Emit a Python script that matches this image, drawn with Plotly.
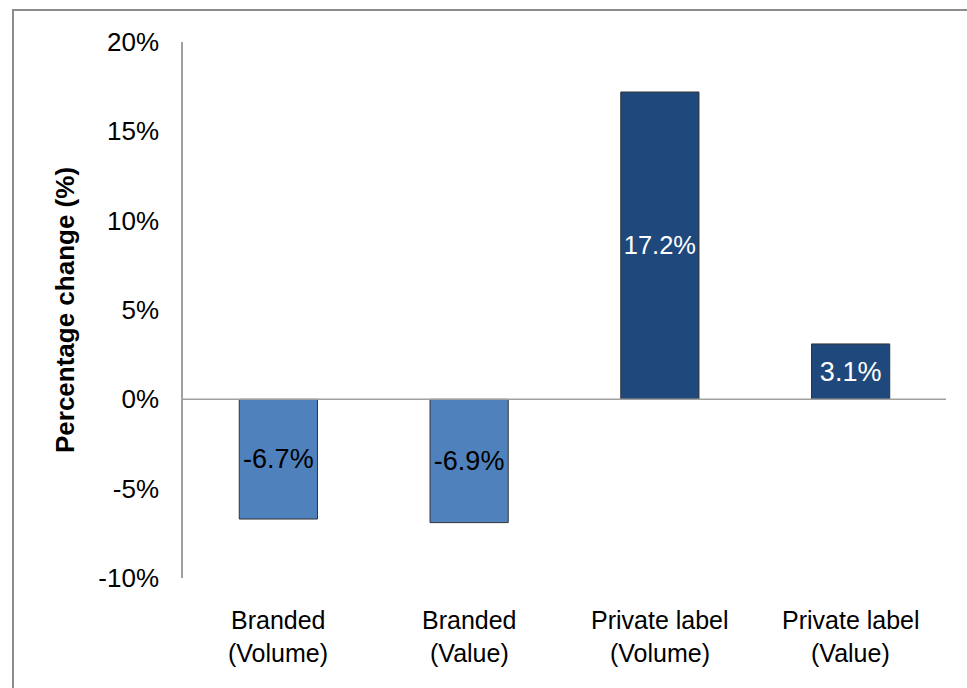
import plotly.graph_objects as go

categories = ["Branded (Volume)", "Branded (Value)", "Private label (Volume)", "Private label (Value)"]
label_line1 = ["Branded", "Branded", "Private label", "Private label"]
label_line2 = ["(Volume)", "(Value)", "(Volume)", "(Value)"]
values = [-6.7, -6.9, 17.2, 3.1]
bar_colors = ["#4F81BD", "#4F81BD", "#1F497D", "#1F497D"]
text_colors = ["black", "black", "white", "white"]
tick_vals = [-10, -5, 0, 5, 10, 15, 20]
tick_text = ["-10%", "-5%", "0%", "5%", "10%", "15%", "20%"]

FONT = "Liberation Sans, Arial, sans-serif"

fig = go.Figure()
fig.add_trace(go.Bar(
    x=categories, y=values,
    marker=dict(color=bar_colors, line=dict(color="#333333", width=1)),
    text=[f"{v:.1f}%" for v in values],
    textposition="inside", insidetextanchor="middle",
    textfont=dict(family=FONT, size=27, color=text_colors),
    textangle=0, width=0.41,
    cliponaxis=False,
))

for c, l1, l2 in zip(categories, label_line1, label_line2):
    fig.add_annotation(x=c, y=-10, xref="x", yref="y", text=l1, showarrow=False,
                       yanchor="middle", yshift=-42, font=dict(family=FONT, size=25, color="black"))
    fig.add_annotation(x=c, y=-10, xref="x", yref="y", text=l2, showarrow=False,
                       yanchor="middle", yshift=-75, font=dict(family=FONT, size=25, color="black"))

# outer border
fig.add_shape(type="rect", xref="paper", yref="paper", x0=-0.2228, x1=1.2, y0=-0.4, y1=1.0597,
              line=dict(color="#8C8C8C", width=2), fillcolor="rgba(0,0,0,0)", layer="below")
# zero line
fig.add_shape(type="line", xref="paper", yref="y", x0=0, x1=1, y0=0, y1=0,
              line=dict(color="#A0A0A0", width=1.5))

fig.update_layout(
    width=967, height=688,
    margin=dict(l=183, r=21, t=42, b=110),
    paper_bgcolor="white", plot_bgcolor="white",
    showlegend=False,
    bargap=0.59,
    xaxis=dict(type="category", showticklabels=False, showgrid=False, zeroline=False,
               showline=False, ticks=""),
    yaxis=dict(range=[-10, 20], tickvals=tick_vals, ticktext=tick_text,
               showgrid=False, zeroline=False, showline=True, linecolor="#A0A0A0", linewidth=1.5,
               ticks="", ticklabelstandoff=17,
               tickfont=dict(family=FONT, size=26, color="black"),
               title=dict(text="<b>Percentage change (%)</b>", standoff=16,
                          font=dict(family=FONT, size=26, color="black"))),
)

fig.write_html("out.html")
